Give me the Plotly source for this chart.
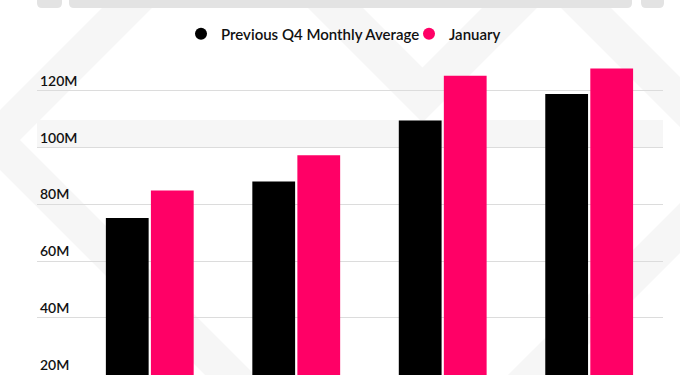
import plotly.graph_objects as go

# ---- data ----
categories = ["Group 1", "Group 2", "Group 3", "Group 4"]
prev_q4_avg = [75.2e6, 88.0e6, 109.5e6, 118.8e6]
january = [84.9e6, 97.3e6, 125.3e6, 127.8e6]
series_names = ["Previous Q4 Monthly Average", "January"]
tick_vals = [20e6, 40e6, 60e6, 80e6, 100e6, 120e6]
tick_text = ["20M", "40M", "60M", "80M", "100M", "120M"]

BLACK = "#000000"
PINK = "#ff0066"
FONT = "Lato"

W, H = 680, 375
ML, MR, MT, MB = 37, 17, 55, 0
PW, PH = W - ML - MR, H - MT - MB


def px(x, y):
    return (x - ML) / PW, (H - MB - y) / PH


def poly(points):
    pts = [px(x, y) for x, y in points]
    d = "M " + " L ".join(f"{a:.4f},{b:.4f}" for a, b in pts) + " Z"
    return dict(type="path", path=d, xref="paper", yref="paper",
                fillcolor="#f6f6f6", line=dict(width=0), layer="below")


def rounded_top_bar(x0, x1, y1, r=5):
    a0, b0 = px(x0, -5)
    a1, _ = px(x1, -5)
    _, bb = px(0, y1)
    _, br = px(0, y1 - r)
    ar0, _ = px(x0 + r, 0)
    ar1, _ = px(x1 - r, 0)
    d = (f"M {a0:.4f},{b0:.4f} L {a1:.4f},{b0:.4f} L {a1:.4f},{br:.4f} "
         f"Q {a1:.4f},{bb:.4f} {ar1:.4f},{bb:.4f} L {ar0:.4f},{bb:.4f} "
         f"Q {a0:.4f},{bb:.4f} {a0:.4f},{br:.4f} Z")
    return dict(type="path", path=d, xref="paper", yref="paper",
                fillcolor="#e3e3e3", line=dict(width=0), layer="below")


fig = go.Figure()
fig.add_trace(go.Bar(x=categories, y=prev_q4_avg, name=series_names[0],
                     marker=dict(color=BLACK, line=dict(width=0)),
                     showlegend=False))
fig.add_trace(go.Bar(x=categories, y=january, name=series_names[1],
                     marker=dict(color=PINK, line=dict(width=0)),
                     showlegend=False))
# legend entries with round markers
for nm, col in zip(series_names, [BLACK, PINK]):
    fig.add_trace(go.Scatter(x=[None], y=[None], mode="markers", name=nm,
                             marker=dict(color=col, size=12, symbol="circle")))

shapes = [
    poly([(110, 0), (160, 0), (20, 140), (255, 375), (205, 375), (-30, 140)]),
    poly([(37, 120), (663, 120), (663, 148), (37, 148)]),
    poly([(300, 0), (355, 0), (422.5, 67.5), (490, 0), (545, 0), (422.5, 122.5)]),
    poly([(553, 0), (603, 0), (768, 165), (558, 375), (508, 375), (718, 165)]),
    rounded_top_bar(37, 62, 8),
    rounded_top_bar(69, 632, 8),
    rounded_top_bar(641, 664, 8),
]

y_bottom = 19.9e6
ppm = (H - MB - 90.7) / (120 - 19.9)  # px per million
y_top = 120e6 + (90.7 - MT) / ppm * 1e6

leg_x, _ = px(181, 0)

fig.update_layout(
    width=W, height=H, autosize=False,
    margin=dict(l=ML, r=MR, t=MT, b=MB, pad=0),
    paper_bgcolor="white", plot_bgcolor="rgba(0,0,0,0)",
    font=dict(family=FONT, color="#111111", size=15),
    barmode="group", bargap=0.385, bargroupgap=0.05,
    shapes=shapes,
    showlegend=True,
    hovermode=False,
    legend=dict(orientation="h", x=leg_x, xanchor="left",
                y=1 + 21 / PH, yanchor="middle",
                entrywidth=183, entrywidthmode="pixels",
                font=dict(family=FONT, size=15, color="#111111", weight=600),
                bgcolor="rgba(0,0,0,0)", itemclick=False),
    xaxis=dict(range=[-0.770, 3.504], showticklabels=False, showgrid=False,
               zeroline=False, showline=False, ticks="", fixedrange=True),
    yaxis=dict(range=[y_bottom, y_top], tickvals=tick_vals, ticktext=tick_text,
               ticklabelposition="inside top", ticks="",
               tickfont=dict(family=FONT, size=14, color="#111111", weight=600),
               showgrid=True, gridcolor="#dcdcdc", gridwidth=1,
               zeroline=False, showline=False, fixedrange=True),
)

fig.write_html("out.html",
               config={"displayModeBar": False, "staticPlot": False},
               post_script="document.body.style.margin='0';")
